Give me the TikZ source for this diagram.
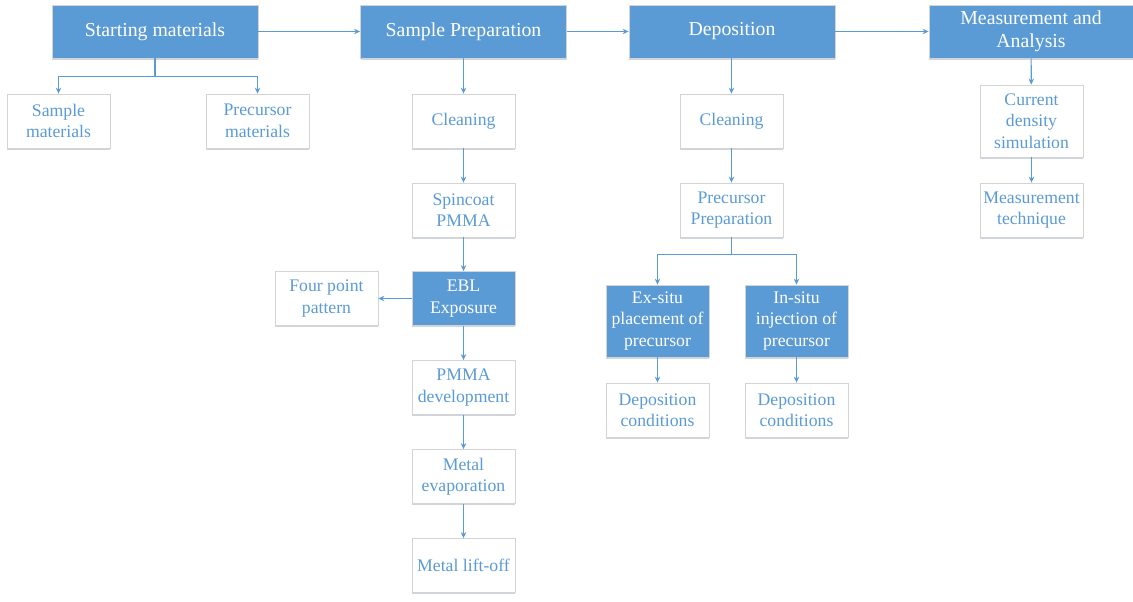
\documentclass[tikz,border=0pt]{standalone}
\usepackage{fontspec}
\setmainfont{Liberation Serif}
\usetikzlibrary{arrows.meta,shadows}

\definecolor{stepblue}{HTML}{5B9BD5}
\definecolor{boxgray}{HTML}{D4D4D4}

\begin{document}
\begin{tikzpicture}[x=1pt,y=-1pt,
    >={Stealth[length=6pt,width=5.5pt]},
    boxshadow/.style={drop shadow={shadow xshift=0pt,shadow yshift=-1.6pt,fill=stepblue!40!gray,opacity=0.35}},
    headbox/.style={draw=boxgray,fill=stepblue,text=white,line width=0.8pt,
        minimum width=206pt,minimum height=53pt,align=center,
        font=\fontsize{19.8}{23}\selectfont,boxshadow},
    stepbox/.style={draw=boxgray,fill=white,text=stepblue,line width=0.8pt,
        minimum width=103pt,minimum height=54pt,align=center,
        font=\fontsize{17.7}{21.5}\selectfont,boxshadow},
    keybox/.style={stepbox,fill=stepblue,text=white},
    link/.style={->,draw=stepblue,line width=1.1pt}]

        \useasboundingbox (0,0) rectangle (1133,602);

        % main steps
        \node[headbox] (start) at (155,31.5) {Starting materials};
        \node[headbox] (prep) at (463.5,31.5) {Sample Preparation};
        \node[headbox] (depo) at (732,31.5) {Deposition};
        \node[headbox,minimum width=204pt] (meas) at (1031,31.5) {Measurement and\\Analysis};

        \draw[link] (start) -- (prep);
        \draw[link] (prep) -- (depo);
        \draw[link] (depo) -- (meas);

        % starting materials
        \node[stepbox] (smat) at (58.5,121) {Sample\\materials};
        \node[stepbox] (pmat) at (257.5,121) {Precursor\\materials};
        \draw[link] (start.south) -- ++(0,18) -| (smat.north);
        \draw[link] (start.south) -- ++(0,18) -| (pmat.north);

        % sample preparation
        \node[stepbox] (clean) at (463.5,121) {Cleaning};
        \node[stepbox] (spin) at (463.5,210) {Spincoat\\PMMA};
        \node[keybox] (ebl) at (463.5,298.5) {EBL\\Exposure};
        \node[stepbox] (four) at (326.5,298.5) {Four point\\pattern};
        \node[stepbox] (devel) at (463.5,387.5) {PMMA\\development};
        \node[stepbox] (evap) at (463.5,476.5) {Metal\\evaporation};
        \node[stepbox] (lift) at (463.5,565.5) {Metal lift-off};

        \draw[link] (prep) -- (clean);
        \draw[link] (clean) -- (spin);
        \draw[link] (spin) -- (ebl);
        \draw[link] (ebl) -- (four);
        \draw[link] (ebl) -- (devel);
        \draw[link] (devel) -- (evap);
        \draw[link] (evap) -- (lift);

        % deposition
        \node[stepbox] (dclean) at (731.5,121) {Cleaning};
        \node[stepbox] (pprep) at (731.5,210) {Precursor\\Preparation};
        \node[keybox,minimum height=72pt] (exsitu) at (657.5,321) {Ex-situ\\placement of\\precursor};
        \node[keybox,minimum height=72pt] (insitu) at (796.5,321) {In-situ\\injection of\\precursor};
        \node[stepbox] (excond) at (657.5,410) {Deposition\\conditions};
        \node[stepbox] (incond) at (796.5,410) {Deposition\\conditions};

        \draw[link] (depo.south -| dclean) -- (dclean);
        \draw[link] (dclean) -- (pprep);
        \draw[link] (pprep.south) -- ++(0,17) -| (exsitu.north);
        \draw[link] (pprep.south) -- ++(0,17) -| (insitu.north);
        \draw[link] (exsitu) -- (excond);
        \draw[link] (insitu) -- (incond);

        % measurement and analysis
        \node[stepbox,minimum height=72pt] (sim) at (1031.5,121) {Current\\density\\simulation};
        \node[stepbox] (tech) at (1031.5,210) {Measurement\\technique};

        \draw[link] (meas) -- (sim);
        \draw[link] (sim) -- (tech);

    \end{tikzpicture}
\end{document}
